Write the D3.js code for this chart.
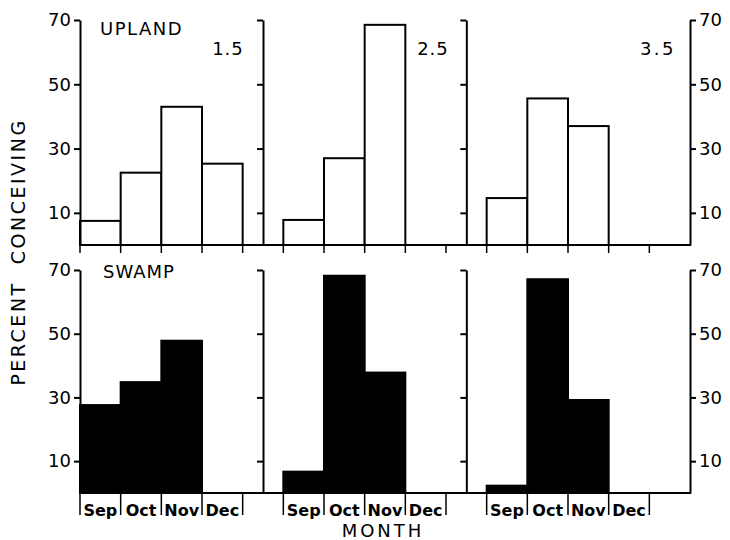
<!DOCTYPE html>
<html>
<head>
<meta charset="utf-8">
<script src="https://cdn.jsdelivr.net/npm/d3@7"></script>
<style>
  body { margin: 0; background: #fff; }
  text { font-family: "DejaVu Sans", sans-serif; fill: #000; }
  .axis path, .axis line { stroke: #000; stroke-width: 2; }
  .axis text { font-size: 18px; }
</style>
</head>
<body>
<script>
// canvas
var w = 730;
var h = 540;

// data
var months = ["Sep", "Oct", "Nov", "Dec"];
var ages = ["1.5", "2.5", "3.5"];
var yTicks = [10, 30, 50, 70];
// upland, percent conceiving per month, one array per age class
var upland15 = [7.5, 22.5, 43, 25.3];
var upland25 = [7.8, 27, 68.5, 0];
var upland35 = [14.6, 45.6, 37, 0];
// swamp
var swamp15 = [27.6, 34.8, 47.8, 0];
var swamp25 = [6.7, 68.2, 37.8, 0];
var swamp35 = [2.3, 67.1, 29.2, 0];

var upland = [upland15, upland25, upland35];
var swamp = [swamp15, swamp25, swamp35];

// each bar takes one slot, panels start at slot 0, 5, 10
var panelStart = [0, 5, 10];

var svg = d3.select("body")
            .append("svg")
            .attr("width", w)
            .attr("height", h);

var scaleX = d3.scaleLinear()
               .domain([0, 15])
               .range([80, 690]);

var yTop = d3.scaleLinear().domain([0, 70]).range([245, 20]);
var yBot = d3.scaleLinear().domain([0, 70]).range([493, 270]);

// flatten a group into bar records
var toBars = function(groups) {
    var out = [];
    for (var p = 0; p < groups.length; p++) {
        for (var m = 0; m < months.length; m++) {
            out.push({ slot: panelStart[p] + m, val: groups[p][m] });
        }
    }
    return out;
};

var drawRow = function(scaleY, groups, fill, tickLen, name) {
    var g = svg.append("g").attr("class", "row_" + name);

    // bars
    g.selectAll("rect")
     .data(toBars(groups).filter(function(d) { return d.val > 0; }))
     .enter()
     .append("rect")
     .attr("x", function(d) { return scaleX(d.slot); })
     .attr("y", function(d) { return scaleY(d.val); })
     .attr("width", function(d) { return scaleX(d.slot + 1) - scaleX(d.slot); })
     .attr("height", function(d) { return scaleY(0) - scaleY(d.val); })
     .attr("fill", fill)
     .attr("stroke", "#000")
     .attr("stroke-width", 2);

    // left axis with labels
    g.append("g")
     .attr("class", "axis")
     .attr("transform", "translate(" + scaleX(0) + ",0)")
     .call(d3.axisLeft(scaleY).tickValues(yTicks).tickSize(6).tickSizeOuter(0).tickPadding(3));

    // divider axes, no labels
    [4.5, 9.5].forEach(function(s) {
        g.append("g")
         .attr("class", "axis")
         .attr("transform", "translate(" + scaleX(s) + ",0)")
         .call(d3.axisLeft(scaleY).tickValues(yTicks).tickSize(6).tickSizeOuter(0).tickFormat(""));
    });

    // right axis
    g.append("g")
     .attr("class", "axis")
     .attr("transform", "translate(" + scaleX(15) + ",0)")
     .call(d3.axisRight(scaleY).tickValues(yTicks).tickSize(6).tickSizeOuter(0).tickPadding(3));

    // baseline
    g.append("line")
     .attr("x1", scaleX(0) - 1)
     .attr("x2", scaleX(15) + 1)
     .attr("y1", scaleY(0))
     .attr("y2", scaleY(0))
     .attr("stroke", "#000")
     .attr("stroke-width", 2);

    // month boundary ticks below the baseline
    var tickSlots = [];
    panelStart.forEach(function(s) {
        for (var k = 0; k <= 4; k++) tickSlots.push(s + k);
    });
    g.selectAll("line.xt")
     .data(tickSlots)
     .enter()
     .append("line")
     .attr("class", "xt")
     .attr("x1", function(d) { return scaleX(d); })
     .attr("x2", function(d) { return scaleX(d); })
     .attr("y1", scaleY(0))
     .attr("y2", scaleY(0) + tickLen)
     .attr("stroke", "#000")
     .attr("stroke-width", 1.5);
    return g;
};

drawRow(yTop, upland, "#fff", 8, "upland");
drawRow(yBot, swamp, "#000", 22, "swamp");

// month labels
var monthLabels = [];
panelStart.forEach(function(s) {
    months.forEach(function(m, i) { monthLabels.push({ slot: s + i, txt: m }); });
});
svg.selectAll("text.month")
   .data(monthLabels)
   .enter()
   .append("text")
   .attr("class", "month")
   .attr("x", function(d) { return scaleX(d.slot + 0.5); })
   .attr("y", 516)
   .attr("text-anchor", "middle")
   .attr("font-size", 16)
   .attr("font-weight", "bold")
   .text(function(d) { return d.txt; });

// panel labels
svg.append("text").attr("x", 100).attr("y", 35).attr("font-size", 18)
   .attr("letter-spacing", 1.5).text("UPLAND");
svg.append("text").attr("x", 103).attr("y", 278).attr("font-size", 18)
   .attr("letter-spacing", 1).text("SWAMP");

var ageX = [228, 433, 658];
svg.selectAll("text.age")
   .data(ages)
   .enter()
   .append("text")
   .attr("class", "age")
   .attr("x", function(d, i) { return ageX[i]; })
   .attr("y", 55)
   .attr("text-anchor", "middle")
   .attr("font-size", 18)
   .attr("letter-spacing", function(d, i) { return i === 2 ? 2.5 : 1; })
   .text(function(d) { return d; });

// axis titles
svg.append("text")
   .attr("transform", "translate(25,252) rotate(-90)")
   .attr("text-anchor", "middle")
   .attr("font-size", 19)
   .attr("letter-spacing", 2.5)
   .style("white-space", "pre")
   .text("PERCENT  CONCEIVING");

svg.append("text")
   .attr("x", 383)
   .attr("y", 537)
   .attr("text-anchor", "middle")
   .attr("font-size", 18)
   .attr("letter-spacing", 3)
   .text("MONTH");
</script>
</body>
</html>
